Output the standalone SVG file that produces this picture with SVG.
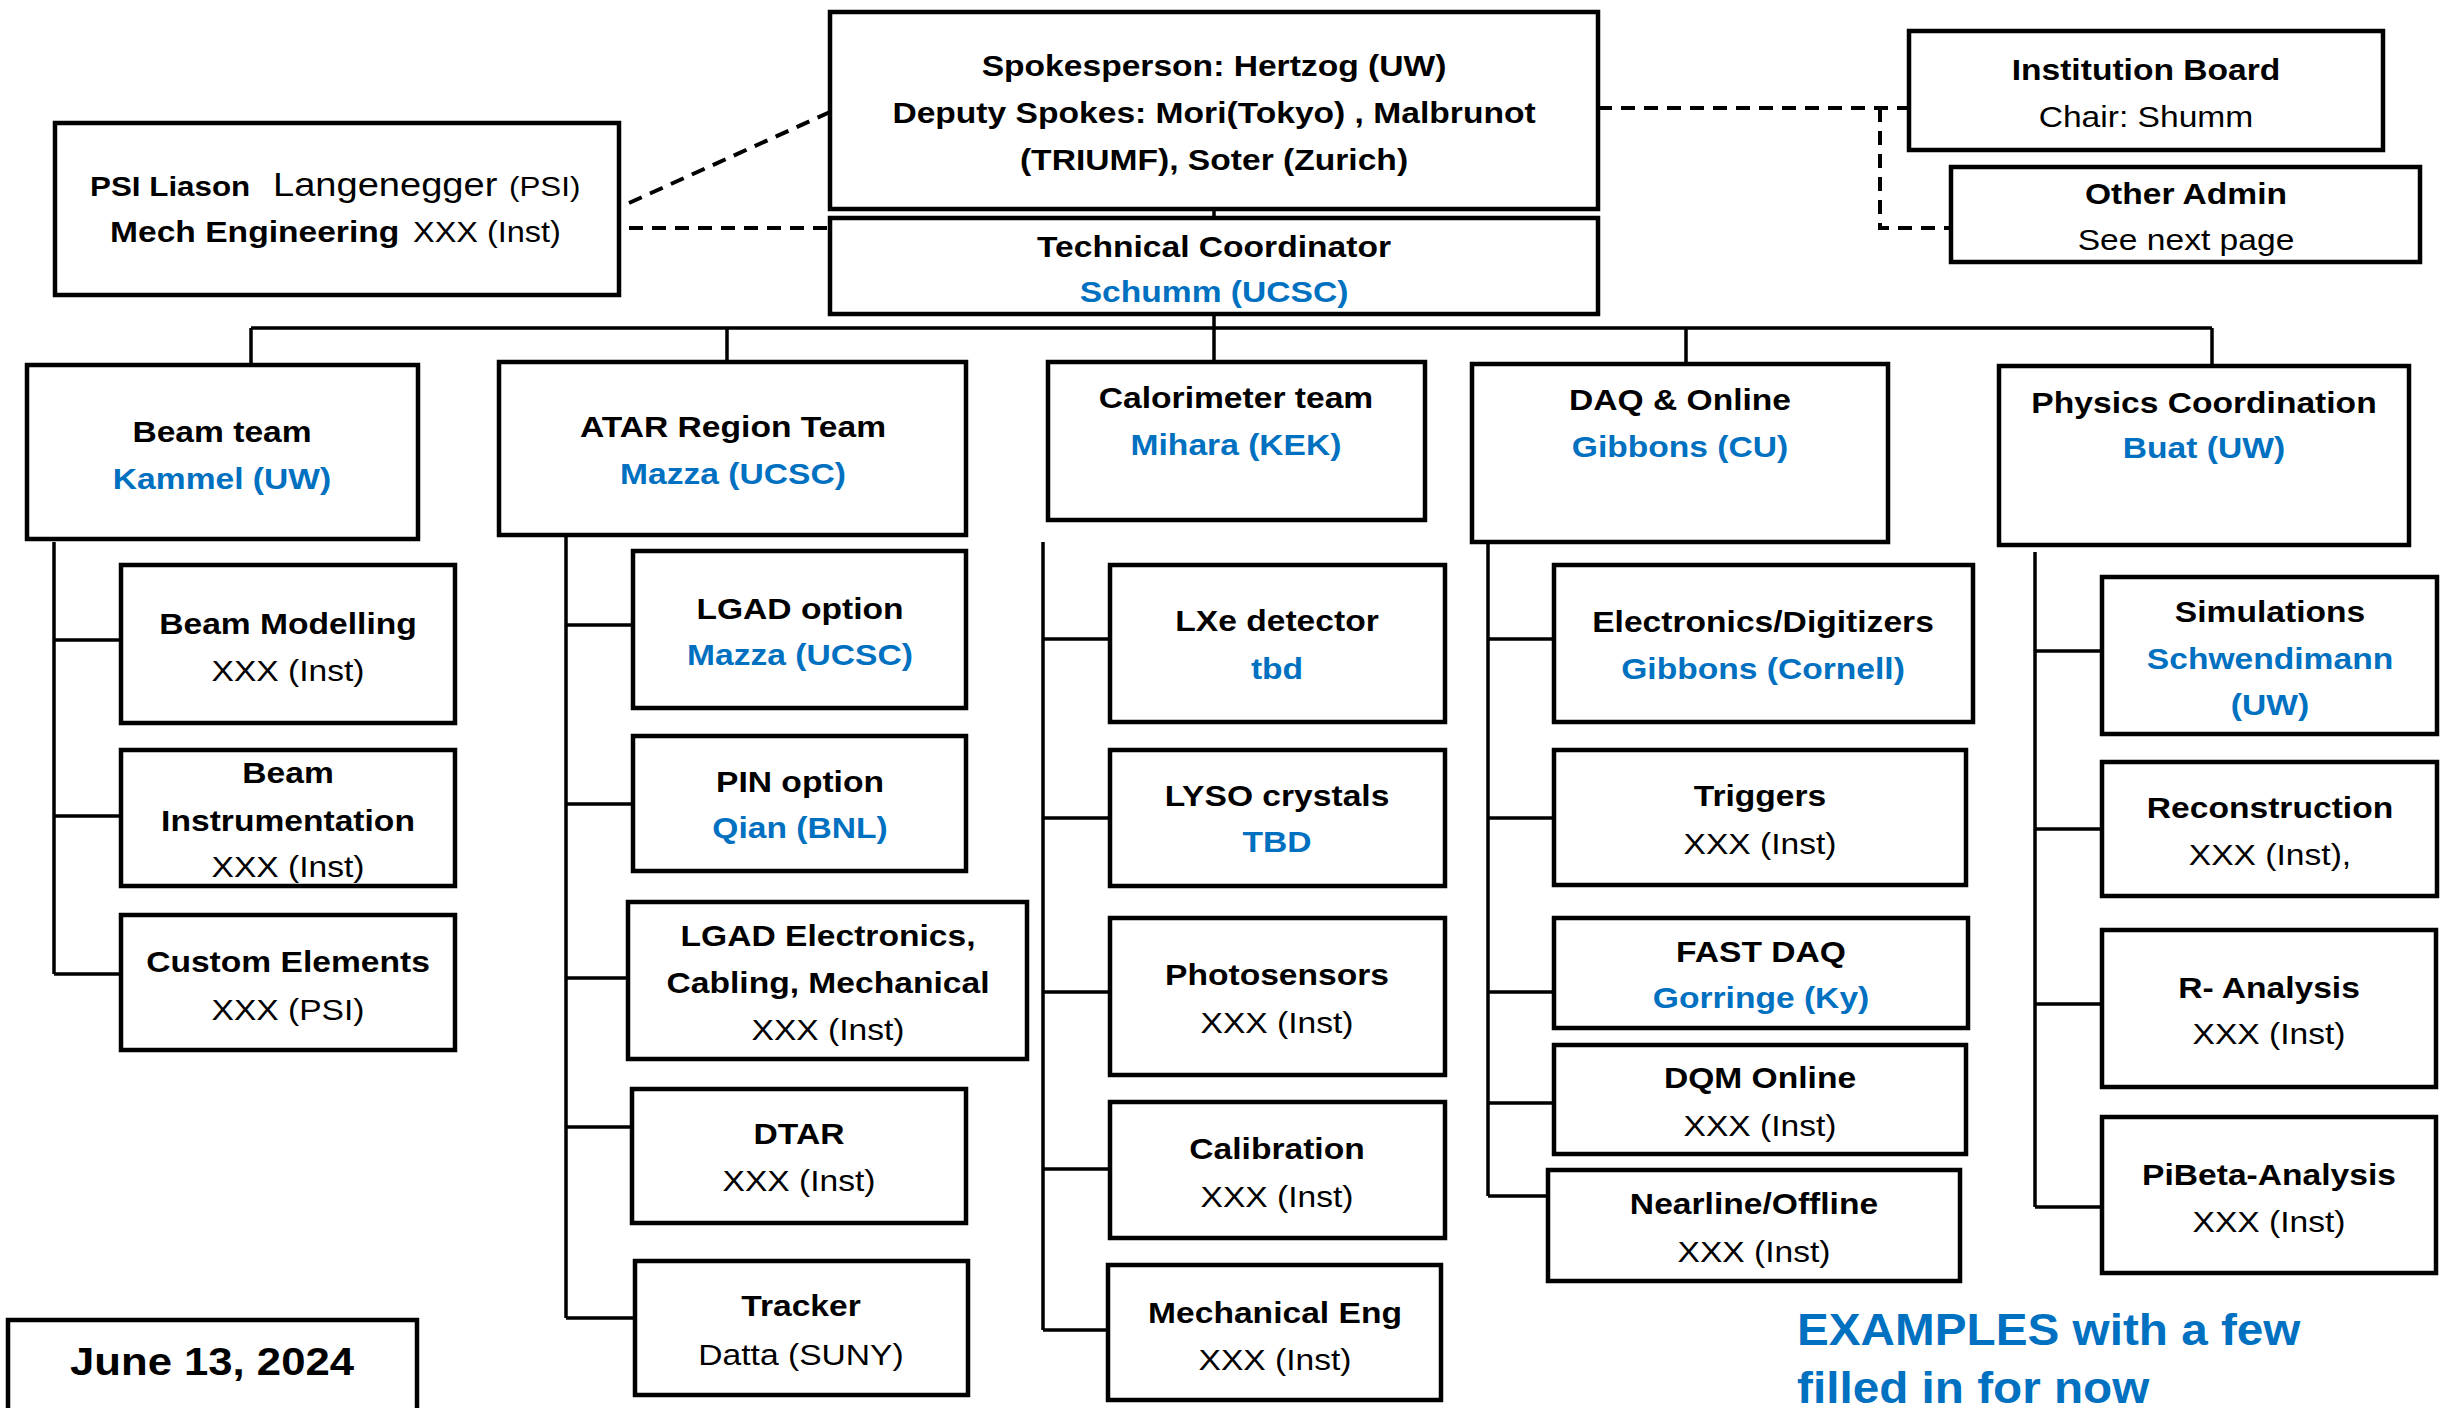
<svg xmlns="http://www.w3.org/2000/svg" width="2450" height="1408" viewBox="0 0 2450 1408">
<style>
.bg{fill:#fff}
.box{fill:#fff;stroke:#000;stroke-width:4.5}
.t{font-family:"Liberation Sans",Arial,sans-serif;font-size:30px;text-anchor:middle;fill:#000}
.s{text-anchor:start}
.b{font-weight:bold}
.blue{fill:#0070C0}
.conn{stroke:#000;stroke-width:3.5;fill:none}
.dash{stroke:#000;stroke-width:4;fill:none;stroke-dasharray:14 9}
</style>
<rect class="bg" x="0" y="0" width="2450" height="1408"/>

<g id="connectors">
  <path class="dash" d="M629 203 L830 112"/>
  <path class="dash" d="M606 228 L830 228"/>
  <path class="dash" d="M1598 108 L1909 108"/>
  <path class="dash" d="M1880 108 L1880 228 L1951 228"/>
  <path class="conn" d="M1214 209 V218"/>
  <path class="conn" d="M1214 314 V362"/>
  <path class="conn" d="M251 328 H2212"/>
  <path class="conn" d="M251 328 V365 M727 328 V362 M1686 328 V364 M2212 328 V366"/>
  <path class="conn" d="M54 542 V974 M54 640 H121 M54 816 H121 M54 974 H121"/>
  <path class="conn" d="M566 535 V1318 M566 625 H633 M566 804 H633 M566 978 H628 M566 1127 H632 M566 1318 H635"/>
  <path class="conn" d="M1043 542 V1330 M1043 639 H1110 M1043 818 H1110 M1043 992 H1110 M1043 1169 H1110 M1043 1330 H1108"/>
  <path class="conn" d="M1488 542 V1196 M1488 639 H1554 M1488 818 H1554 M1488 992 H1554 M1488 1103 H1554 M1488 1196 H1548"/>
  <path class="conn" d="M2035 552 V1207 M2035 651 H2102 M2035 829 H2102 M2035 1004 H2102 M2035 1207 H2102"/>
</g>

<g id="spokes">
  <rect class="box" x="830" y="12" width="768" height="197"/>
  <text class="t b" transform="matrix(1.12 0 0 1 1214 0)"><tspan x="0" y="76">Spokesperson: Hertzog (UW)</tspan><tspan x="0" y="123">Deputy Spokes: Mori(Tokyo) , Malbrunot</tspan><tspan x="0" y="170">(TRIUMF), Soter (Zurich)</tspan></text>
</g>
<g id="techcoord">
  <rect class="box" x="830" y="218" width="768" height="96"/>
  <text class="t b" transform="matrix(1.12 0 0 1 1214 0)"><tspan x="0" y="257">Technical Coordinator</tspan><tspan x="0" y="302" class="blue">Schumm (UCSC)</tspan></text>
</g>
<g id="psi">
  <rect class="box" x="55" y="123" width="564" height="172"/>
  <text class="t s b" style="font-size:28px" transform="matrix(1.12 0 0 1 90 0)" x="0" y="196">PSI Liason</text>
  <text class="t s" style="font-size:34px" transform="matrix(1.12 0 0 1 273 0)" x="0" y="196">Langenegger</text>
  <text class="t s" style="font-size:28px" transform="matrix(1.12 0 0 1 509 0)" x="0" y="196">(PSI)</text>
  <text class="t s b" style="font-size:30px" transform="matrix(1.12 0 0 1 110 0)" x="0" y="242">Mech Engineering</text>
  <text class="t s" style="font-size:29px" transform="matrix(1.12 0 0 1 413 0)" x="0" y="242">XXX (Inst)</text>
</g>
<g id="instboard">
  <rect class="box" x="1909" y="31" width="474" height="119"/>
  <text class="t" transform="matrix(1.12 0 0 1 2146 0)"><tspan x="0" y="80" class="b">Institution Board</tspan><tspan x="0" y="127">Chair: Shumm</tspan></text>
</g>
<g id="otheradmin">
  <rect class="box" x="1951" y="167" width="469" height="95"/>
  <text class="t" transform="matrix(1.12 0 0 1 2186 0)"><tspan x="0" y="204" class="b">Other Admin</tspan><tspan x="0" y="250">See next page</tspan></text>
</g>

<g id="beamteam">
  <rect class="box" x="27" y="365" width="391" height="174"/>
  <text class="t b" transform="matrix(1.12 0 0 1 222 0)"><tspan x="0" y="442">Beam team</tspan><tspan x="0" y="489" class="blue">Kammel (UW)</tspan></text>
</g>
<g id="beammod">
  <rect class="box" x="121" y="565" width="334" height="158"/>
  <text class="t" transform="matrix(1.12 0 0 1 288 0)"><tspan x="0" y="634" class="b">Beam Modelling</tspan><tspan x="0" y="681">XXX (Inst)</tspan></text>
</g>
<g id="beaminstr">
  <rect class="box" x="121" y="750" width="334" height="136"/>
  <text class="t" transform="matrix(1.12 0 0 1 288 0)"><tspan x="0" y="783" class="b">Beam</tspan><tspan x="0" y="831" class="b">Instrumentation</tspan><tspan x="0" y="877">XXX (Inst)</tspan></text>
</g>
<g id="custom">
  <rect class="box" x="121" y="915" width="334" height="135"/>
  <text class="t" transform="matrix(1.12 0 0 1 288 0)"><tspan x="0" y="972" class="b">Custom Elements</tspan><tspan x="0" y="1020">XXX (PSI)</tspan></text>
</g>

<g id="atar">
  <rect class="box" x="499" y="362" width="467" height="173"/>
  <text class="t b" transform="matrix(1.12 0 0 1 733 0)"><tspan x="0" y="437">ATAR Region Team</tspan><tspan x="0" y="484" class="blue">Mazza (UCSC)</tspan></text>
</g>
<g id="lgad">
  <rect class="box" x="633" y="551" width="333" height="157"/>
  <text class="t b" transform="matrix(1.12 0 0 1 800 0)"><tspan x="0" y="619">LGAD option</tspan><tspan x="0" y="665" class="blue">Mazza (UCSC)</tspan></text>
</g>
<g id="pin">
  <rect class="box" x="633" y="736" width="333" height="135"/>
  <text class="t b" transform="matrix(1.12 0 0 1 800 0)"><tspan x="0" y="792">PIN option</tspan><tspan x="0" y="838" class="blue">Qian (BNL)</tspan></text>
</g>
<g id="lgadelec">
  <rect class="box" x="628" y="902" width="399" height="157"/>
  <text class="t" transform="matrix(1.12 0 0 1 828 0)"><tspan x="0" y="946" class="b">LGAD Electronics,</tspan><tspan x="0" y="993" class="b">Cabling, Mechanical</tspan><tspan x="0" y="1040">XXX (Inst)</tspan></text>
</g>
<g id="dtar">
  <rect class="box" x="632" y="1089" width="334" height="134"/>
  <text class="t" transform="matrix(1.12 0 0 1 799 0)"><tspan x="0" y="1144" class="b">DTAR</tspan><tspan x="0" y="1191">XXX (Inst)</tspan></text>
</g>
<g id="tracker">
  <rect class="box" x="635" y="1261" width="333" height="134"/>
  <text class="t" transform="matrix(1.12 0 0 1 801 0)"><tspan x="0" y="1316" class="b">Tracker</tspan><tspan x="0" y="1365">Datta (SUNY)</tspan></text>
</g>

<g id="calo">
  <rect class="box" x="1048" y="362" width="377" height="158"/>
  <text class="t b" transform="matrix(1.12 0 0 1 1236 0)"><tspan x="0" y="408">Calorimeter team</tspan><tspan x="0" y="455" class="blue">Mihara (KEK)</tspan></text>
</g>
<g id="lxe">
  <rect class="box" x="1110" y="565" width="335" height="157"/>
  <text class="t b" transform="matrix(1.12 0 0 1 1277 0)"><tspan x="0" y="631">LXe detector</tspan><tspan x="0" y="679" class="blue">tbd</tspan></text>
</g>
<g id="lyso">
  <rect class="box" x="1110" y="750" width="335" height="136"/>
  <text class="t b" transform="matrix(1.12 0 0 1 1277 0)"><tspan x="0" y="806">LYSO crystals</tspan><tspan x="0" y="852" class="blue">TBD</tspan></text>
</g>
<g id="photo">
  <rect class="box" x="1110" y="918" width="335" height="157"/>
  <text class="t" transform="matrix(1.12 0 0 1 1277 0)"><tspan x="0" y="985" class="b">Photosensors</tspan><tspan x="0" y="1033">XXX (Inst)</tspan></text>
</g>
<g id="calib">
  <rect class="box" x="1110" y="1102" width="335" height="136"/>
  <text class="t" transform="matrix(1.12 0 0 1 1277 0)"><tspan x="0" y="1159" class="b">Calibration</tspan><tspan x="0" y="1207">XXX (Inst)</tspan></text>
</g>
<g id="mecheng">
  <rect class="box" x="1108" y="1265" width="333" height="135"/>
  <text class="t" transform="matrix(1.12 0 0 1 1275 0)"><tspan x="0" y="1323" class="b">Mechanical Eng</tspan><tspan x="0" y="1370">XXX (Inst)</tspan></text>
</g>

<g id="daq">
  <rect class="box" x="1472" y="364" width="416" height="178"/>
  <text class="t b" transform="matrix(1.12 0 0 1 1680 0)"><tspan x="0" y="410">DAQ &amp; Online</tspan><tspan x="0" y="457" class="blue">Gibbons (CU)</tspan></text>
</g>
<g id="elec">
  <rect class="box" x="1554" y="565" width="419" height="157"/>
  <text class="t b" transform="matrix(1.12 0 0 1 1763 0)"><tspan x="0" y="632">Electronics/Digitizers</tspan><tspan x="0" y="679" class="blue">Gibbons (Cornell)</tspan></text>
</g>
<g id="triggers">
  <rect class="box" x="1554" y="750" width="412" height="135"/>
  <text class="t" transform="matrix(1.12 0 0 1 1760 0)"><tspan x="0" y="806" class="b">Triggers</tspan><tspan x="0" y="854">XXX (Inst)</tspan></text>
</g>
<g id="fastdaq">
  <rect class="box" x="1554" y="918" width="414" height="110"/>
  <text class="t b" transform="matrix(1.12 0 0 1 1761 0)"><tspan x="0" y="962">FAST DAQ</tspan><tspan x="0" y="1008" class="blue">Gorringe (Ky)</tspan></text>
</g>
<g id="dqm">
  <rect class="box" x="1554" y="1045" width="412" height="109"/>
  <text class="t" transform="matrix(1.12 0 0 1 1760 0)"><tspan x="0" y="1088" class="b">DQM Online</tspan><tspan x="0" y="1136">XXX (Inst)</tspan></text>
</g>
<g id="nearline">
  <rect class="box" x="1548" y="1170" width="412" height="111"/>
  <text class="t" transform="matrix(1.12 0 0 1 1754 0)"><tspan x="0" y="1214" class="b">Nearline/Offline</tspan><tspan x="0" y="1262">XXX (Inst)</tspan></text>
</g>

<g id="physics">
  <rect class="box" x="1999" y="366" width="410" height="179"/>
  <text class="t b" transform="matrix(1.12 0 0 1 2204 0)"><tspan x="0" y="413">Physics Coordination</tspan><tspan x="0" y="458" class="blue">Buat (UW)</tspan></text>
</g>
<g id="sim">
  <rect class="box" x="2102" y="577" width="335" height="157"/>
  <text class="t b" transform="matrix(1.12 0 0 1 2270 0)"><tspan x="0" y="622">Simulations</tspan><tspan x="0" y="669" class="blue">Schwendimann</tspan><tspan x="0" y="715" class="blue">(UW)</tspan></text>
</g>
<g id="reco">
  <rect class="box" x="2102" y="762" width="335" height="134"/>
  <text class="t" transform="matrix(1.12 0 0 1 2270 0)"><tspan x="0" y="818" class="b">Reconstruction</tspan><tspan x="0" y="865">XXX (Inst),</tspan></text>
</g>
<g id="ranalysis">
  <rect class="box" x="2102" y="930" width="334" height="157"/>
  <text class="t" transform="matrix(1.12 0 0 1 2269 0)"><tspan x="0" y="998" class="b">R- Analysis</tspan><tspan x="0" y="1044">XXX (Inst)</tspan></text>
</g>
<g id="pibeta">
  <rect class="box" x="2102" y="1117" width="334" height="156"/>
  <text class="t" transform="matrix(1.12 0 0 1 2269 0)"><tspan x="0" y="1185" class="b">PiBeta-Analysis</tspan><tspan x="0" y="1232">XXX (Inst)</tspan></text>
</g>

<g id="date">
  <rect class="box" x="8" y="1320" width="409" height="110"/>
  <text class="t b" style="font-size:39px" transform="matrix(1.12 0 0 1 212 0)" x="0" y="1375">June 13, 2024</text>
</g>
<g id="note">
  <text class="t s b blue" style="font-size:45px" transform="matrix(1.06 0 0 1 1797 0)"><tspan x="0" y="1345">EXAMPLES with a few</tspan><tspan x="0" y="1403">filled in for now</tspan></text>
</g>
</svg>
